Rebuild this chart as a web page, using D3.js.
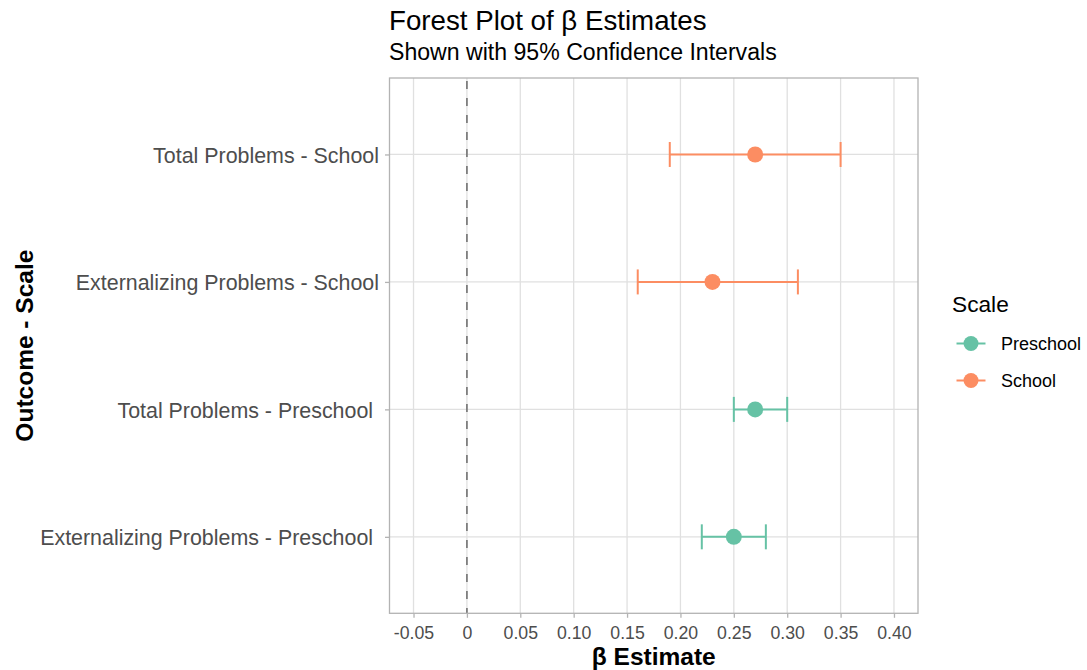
<!DOCTYPE html>
<html>
<head>
<meta charset="utf-8">
<script src="https://cdn.jsdelivr.net/npm/d3@7"></script>
<style>
  html, body { margin: 0; padding: 0; background: #ffffff; }
  svg { display: block; font-family: "Liberation Sans", Arial, Helvetica, sans-serif; }
</style>
</head>
<body>
<svg id="chart" width="1087" height="670"></svg>
<script>
// Outcome rows, listed bottom to top
const outcomes = [
  "Externalizing Problems - Preschool ",
  "Total Problems - Preschool ",
  "Externalizing Problems - School",
  "Total Problems - School"
];
const rowScale = ["Preschool", "Preschool", "School", "School"];
const estimates = [0.25, 0.27, 0.23, 0.27];
const lowerCI = [0.22, 0.25, 0.16, 0.19];
const upperCI = [0.28, 0.30, 0.31, 0.35];

const xTicks = [-0.05, 0, 0.05, 0.10, 0.15, 0.20, 0.25, 0.30, 0.35, 0.40];
const xTickLabels = ["-0.05", "0", "0.05", "0.10", "0.15", "0.20", "0.25", "0.30", "0.35", "0.40"];
const xLimits = [-0.05, 0.40];

const scaleLevels = ["Preschool", "School"];
const scaleColors = ["#66C2A5", "#FC8D62"];

const svg = d3.select("#chart");

const panel = { left: 389.5, right: 918, top: 78, bottom: 613.3 };

// 5% expansion on the continuous axis
const span = xLimits[1] - xLimits[0];
const x = d3.scaleLinear()
  .domain([xLimits[0] - 0.05 * span, xLimits[1] + 0.05 * span])
  .range([panel.left, panel.right]);

// discrete axis with 0.6-step padding on each side
const y = d3.scalePoint()
  .domain(outcomes)
  .range([panel.bottom, panel.top])
  .padding(0.6);

const color = d3.scaleOrdinal().domain(scaleLevels).range(scaleColors);

const rows = outcomes.map((o, i) => ({
  outcome: o, scale: rowScale[i], est: estimates[i], lo: lowerCI[i], hi: upperCI[i]
}));

// gridlines
const grid = svg.append("g").attr("stroke", "#e0e0e0").attr("stroke-width", 1.3);
grid.selectAll("line.v").data(xTicks).join("line")
  .attr("x1", d => x(d)).attr("x2", d => x(d))
  .attr("y1", panel.top).attr("y2", panel.bottom);
grid.selectAll("line.h").data(outcomes).join("line")
  .attr("x1", panel.left).attr("x2", panel.right)
  .attr("y1", d => y(d)).attr("y2", d => y(d));

// reference line at zero
svg.append("line")
  .attr("x1", x(0)).attr("x2", x(0))
  .attr("y1", panel.top).attr("y2", panel.bottom)
  .attr("stroke", "#7f7f7f").attr("stroke-width", 1.8)
  .attr("stroke-dasharray", "8,9")
  .attr("stroke-dashoffset", -3);

// error bars
const capHalf = 12.5;
const bars = svg.append("g").selectAll("g").data(rows).join("g")
  .attr("stroke", d => color(d.scale)).attr("stroke-width", 2).attr("fill", "none");
bars.append("line")
  .attr("x1", d => x(d.lo)).attr("x2", d => x(d.hi))
  .attr("y1", d => y(d.outcome)).attr("y2", d => y(d.outcome));
bars.append("line")
  .attr("x1", d => x(d.lo)).attr("x2", d => x(d.lo))
  .attr("y1", d => y(d.outcome) - capHalf).attr("y2", d => y(d.outcome) + capHalf);
bars.append("line")
  .attr("x1", d => x(d.hi)).attr("x2", d => x(d.hi))
  .attr("y1", d => y(d.outcome) - capHalf).attr("y2", d => y(d.outcome) + capHalf);

// point estimates
svg.append("g").selectAll("circle").data(rows).join("circle")
  .attr("cx", d => x(d.est)).attr("cy", d => y(d.outcome)).attr("r", 8)
  .attr("fill", d => color(d.scale));

// panel border
svg.append("rect")
  .attr("x", panel.left).attr("y", panel.top)
  .attr("width", panel.right - panel.left).attr("height", panel.bottom - panel.top)
  .attr("fill", "none").attr("stroke", "#b3b3b3").attr("stroke-width", 1.3);

// axes
const xAxis = svg.append("g")
  .attr("transform", `translate(0,${panel.bottom})`)
  .call(d3.axisBottom(x).tickValues(xTicks)
    .tickFormat((d, i) => xTickLabels[i]).tickSize(4.5).tickPadding(8.3));
xAxis.select(".domain").remove();
xAxis.selectAll(".tick line").attr("stroke", "#b3b3b3").attr("stroke-width", 1.3);
xAxis.selectAll(".tick text").attr("fill", "#4d4d4d")
  .attr("font-size", 17.7);

const yAxis = svg.append("g")
  .attr("transform", `translate(${panel.left},0)`)
  .call(d3.axisLeft(y).tickSize(4.5).tickPadding(6));
yAxis.select(".domain").remove();
yAxis.selectAll(".tick line").attr("stroke", "#b3b3b3").attr("stroke-width", 1.3);
yAxis.selectAll(".tick text").attr("fill", "#4d4d4d")
  .attr("font-size", 21.4)
  .attr("dy", "0.37em").style("white-space", "pre");
xAxis.attr("font-family", null);
yAxis.attr("font-family", null);

// axis titles
svg.append("text")
  .attr("x", (panel.left + panel.right) / 2).attr("y", 664.5)
  .attr("text-anchor", "middle").attr("font-weight", "bold").attr("font-size", 24.5)
  .attr("fill", "#000").text("β Estimate");
svg.append("text")
  .attr("transform", `translate(33,${(panel.top + panel.bottom) / 2}) rotate(-90)`)
  .attr("text-anchor", "middle").attr("font-weight", "bold").attr("font-size", 24.5)
  .attr("fill", "#000").text("Outcome - Scale");

// titles
svg.append("text")
  .attr("x", 389).attr("y", 30)
  .attr("font-size", 27.7).attr("fill", "#000")
  .text("Forest Plot of β Estimates");
svg.append("text")
  .attr("x", 389).attr("y", 60)
  .attr("font-size", 23.1).attr("fill", "#000")
  .text("Shown with 95% Confidence Intervals");

// legend
const legend = svg.append("g");
legend.append("text")
  .attr("x", 952).attr("y", 312)
  .attr("font-size", 22.7).attr("fill", "#000").text("Scale");
const keyY = [343.5, 380.5];
const keys = legend.selectAll("g.key").data(scaleLevels).join("g")
  .attr("class", "key")
  .attr("transform", (d, i) => `translate(0,${keyY[i]})`);
keys.append("line")
  .attr("x1", 956.5).attr("x2", 985.5).attr("y1", 0).attr("y2", 0)
  .attr("stroke", d => color(d)).attr("stroke-width", 2);
keys.append("circle")
  .attr("cx", 971).attr("cy", 0).attr("r", 7.5).attr("fill", d => color(d));
keys.append("text")
  .attr("x", 1001).attr("y", 6.5)
  .attr("font-size", 18).attr("fill", "#000").text(d => d);
</script>
</body>
</html>
